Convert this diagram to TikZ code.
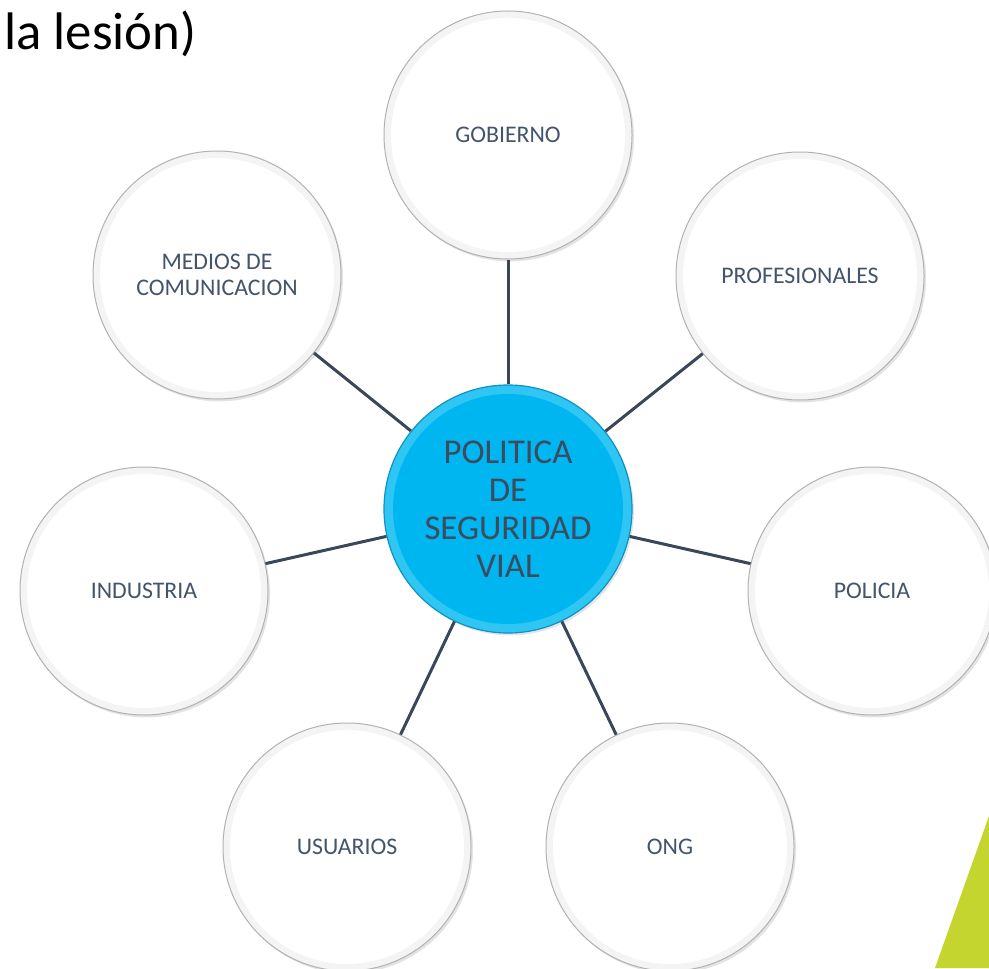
\documentclass[tikz,border=0pt]{standalone}
\usepackage{fontspec}
\setmainfont{Carlito}
\usetikzlibrary{shadows}
\definecolor{txt}{HTML}{44546A}
\definecolor{lnk}{HTML}{3A4659}
\definecolor{hubfill}{HTML}{00B6F0}
\definecolor{hubrim}{HTML}{30C6F4}
\definecolor{hubedge}{HTML}{0B93C4}
\definecolor{lime}{HTML}{C3D52E}
\tikzset{
  sat/.style={circle, minimum size=124pt, inner sep=0pt, draw=gray!60, line width=0.5pt,
    fill=gray!9, text=txt, font=\fontsize{11.9}{13}\selectfont, align=center,
    drop shadow={opacity=0.22, shadow xshift=1pt, shadow yshift=-1.2pt},
    path picture={\fill[white] (path picture bounding box.center) circle (58.5pt);}},
  hubnode/.style={circle, minimum size=124pt, inner sep=0pt, draw=hubedge, line width=0.6pt,
    fill=hubrim, text=txt!90!black, font=\fontsize{17.4}{19}\selectfont, align=center,
    drop shadow={opacity=0.2, shadow xshift=1pt, shadow yshift=-1.2pt},
    path picture={\fill[hubfill] (path picture bounding box.center) circle (57.5pt);}},
  link/.style={draw=lnk, line width=1.5pt}
}
\begin{document}
\begin{tikzpicture}[x=0.5pt,y=-0.5pt]
\useasboundingbox (0,0) rectangle (989,968);
\clip (0,0) rectangle (989,968);
\fill[white] (0,0) rectangle (989,968);
\fill[lime] (989,816) -- (989,968) -- (935,968) -- cycle;
\node[anchor=base west, inner sep=0pt, font=\fontsize{26.4}{30}\selectfont, text=black] (title) at (4,50) {la lesión)};
\node[hubnode] (hub) at (508,509) {POLITICA\\DE\\SEGURIDAD\\VIAL};
\node[sat] (gob) at (508,135) {GOBIERNO};
\node[sat] (prof) at (800,276) {PROFESIONALES};
\node[sat] (pol) at (872,591) {POLICIA};
\node[sat] (ong) at (670,847) {ONG};
\node[sat] (usu) at (347,847) {USUARIOS};
\node[sat] (ind) at (144,591) {INDUSTRIA};
\node[sat] (med) at (217,275) {MEDIOS DE\\COMUNICACION};
\draw[link] (hub) -- (gob);
\draw[link] (hub) -- (prof);
\draw[link] (hub) -- (pol);
\draw[link] (hub) -- (ong);
\draw[link] (hub) -- (usu);
\draw[link] (hub) -- (ind);
\draw[link] (hub) -- (med);
\end{tikzpicture}
\end{document}
